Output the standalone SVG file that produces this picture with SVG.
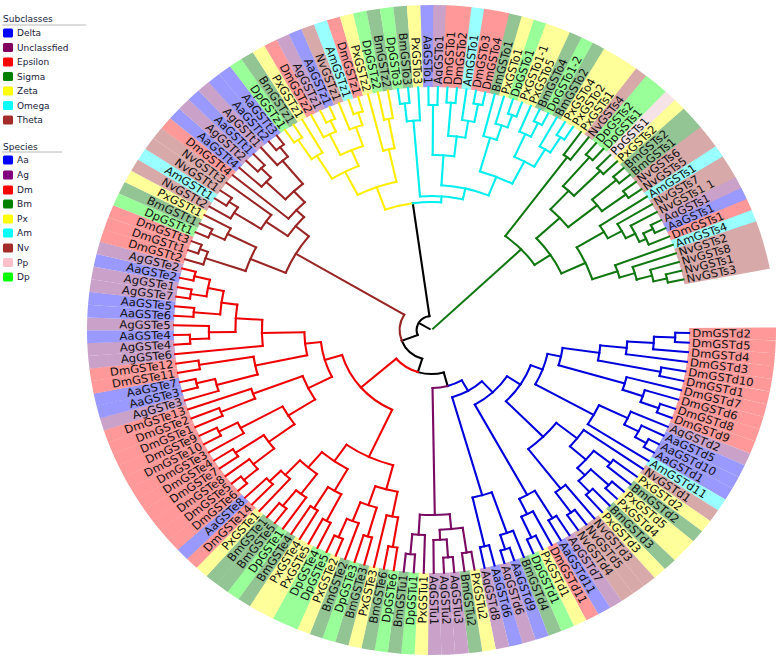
<svg xmlns="http://www.w3.org/2000/svg" width="778" height="663" viewBox="0 0 778 663">
<style>
text{font-family:"DejaVu Sans","Liberation Sans",sans-serif}
.lab text{font-size:11px;fill:#111}
.r{dominant-baseline:central}
.l{dominant-baseline:central;text-anchor:end}
.b{fill:none;stroke-width:82;stroke-dasharray:2.3 400}
.Dm{stroke:#ff9999}.Aa{stroke:#9999ff}.Ag{stroke:#c9a1c9}.Bm{stroke:#93c493}.Px{stroke:#ffff99}.Am{stroke:#99ffff}.Nv{stroke:#d8a9a9}.Pp{stroke:#f5e3e8}.Dp{stroke:#99ff99}
#connectors{fill:none;stroke-width:2;stroke-linecap:square}
.k{stroke:#000}.d{stroke:#0000dd}.u{stroke:#7a0a62}.e{stroke:#ee0000}.t{stroke:#9a2424}.z{stroke:#ffee00}.o{stroke:#00eeee}.s{stroke:#117711}
.lg text{font-size:9px;fill:#1a1a3a}
.lh{font-size:10.4px;fill:#222}
</style>
<rect width="778" height="663" fill="#fff"/>
<g id="legend">
<g id="legend-subclasses" class="lg">
<text class="lh" x="3" y="22">Subclasses</text>
<line x1="2" y1="25" x2="86" y2="25" stroke="#b8b8b8" stroke-width="1"/>
<g id="lg-delta"><rect x="3" y="28.5" width="10" height="9" rx="1.5" fill="#0000ff"/><text x="17" y="36.3">Delta</text></g>
<g id="lg-unclassfied"><rect x="3" y="43" width="10" height="9" rx="1.5" fill="#800060"/><text x="17" y="50.8">Unclassfied</text></g>
<g id="lg-epsilon"><rect x="3" y="57.5" width="10" height="9" rx="1.5" fill="#ff0000"/><text x="17" y="65.3">Epsilon</text></g>
<g id="lg-sigma"><rect x="3" y="72" width="10" height="9" rx="1.5" fill="#008000"/><text x="17" y="79.8">Sigma</text></g>
<g id="lg-zeta"><rect x="3" y="86.5" width="10" height="9" rx="1.5" fill="#ffff00"/><text x="17" y="94.3">Zeta</text></g>
<g id="lg-omega"><rect x="3" y="101" width="10" height="9" rx="1.5" fill="#00ffff"/><text x="17" y="108.8">Omega</text></g>
<g id="lg-theta"><rect x="3" y="115.5" width="10" height="9" rx="1.5" fill="#a52a2a"/><text x="17" y="123.3">Theta</text></g>
</g>
<g id="legend-species" class="lg">
<text class="lh" x="3" y="150">Species</text>
<line x1="2" y1="152" x2="62" y2="152" stroke="#b8b8b8" stroke-width="1"/>
<g id="lg-aa"><rect x="3" y="155.5" width="10" height="9" rx="1.5" fill="#0000ff"/><text x="17" y="163.3">Aa</text></g>
<g id="lg-ag"><rect x="3" y="170.5" width="10" height="9" rx="1.5" fill="#800080"/><text x="17" y="178.3">Ag</text></g>
<g id="lg-dm"><rect x="3" y="185.5" width="10" height="9" rx="1.5" fill="#ff0000"/><text x="17" y="193.3">Dm</text></g>
<g id="lg-bm"><rect x="3" y="199.5" width="10" height="9" rx="1.5" fill="#008000"/><text x="17" y="207.3">Bm</text></g>
<g id="lg-px"><rect x="3" y="214.5" width="10" height="9" rx="1.5" fill="#ffff00"/><text x="17" y="222.3">Px</text></g>
<g id="lg-am"><rect x="3" y="228.5" width="10" height="9" rx="1.5" fill="#00ffff"/><text x="17" y="236.3">Am</text></g>
<g id="lg-nv"><rect x="3" y="243.5" width="10" height="9" rx="1.5" fill="#a52a2a"/><text x="17" y="251.3">Nv</text></g>
<g id="lg-pp"><rect x="3" y="258" width="10" height="9" rx="1.5" fill="#ffc0cb"/><text x="17" y="265.8">Pp</text></g>
<g id="lg-dp"><rect x="3" y="272.5" width="10" height="9" rx="1.5" fill="#00ff00"/><text x="17" y="280.3">Dp</text></g>
</g>
</g>
<g id="tree" transform="translate(431.5,330) scale(1.06,1)">
<g id="leaves" class="lab">
<g id="DmGSTd2" transform="rotate(0.70)"><circle class="b Dm" r="284" pathLength="360" transform="rotate(-1.15)"/><text class="r" x="246">DmGSTd2</text></g>
<g id="DmGSTd5" transform="rotate(2.98)"><circle class="b Dm" r="284" pathLength="360" transform="rotate(-1.15)"/><text class="r" x="246">DmGSTd5</text></g>
<g id="DmGSTd4" transform="rotate(5.26)"><circle class="b Dm" r="284" pathLength="360" transform="rotate(-1.15)"/><text class="r" x="246">DmGSTd4</text></g>
<g id="DmGSTd3" transform="rotate(7.53)"><circle class="b Dm" r="284" pathLength="360" transform="rotate(-1.15)"/><text class="r" x="246">DmGSTd3</text></g>
<g id="DmGSTd10" transform="rotate(9.81)"><circle class="b Dm" r="284" pathLength="360" transform="rotate(-1.15)"/><text class="r" x="246">DmGSTd10</text></g>
<g id="DmGSTd1" transform="rotate(12.09)"><circle class="b Dm" r="284" pathLength="360" transform="rotate(-1.15)"/><text class="r" x="246">DmGSTd1</text></g>
<g id="DmGSTd7" transform="rotate(14.36)"><circle class="b Dm" r="284" pathLength="360" transform="rotate(-1.15)"/><text class="r" x="246">DmGSTd7</text></g>
<g id="DmGSTd6" transform="rotate(16.64)"><circle class="b Dm" r="284" pathLength="360" transform="rotate(-1.15)"/><text class="r" x="246">DmGSTd6</text></g>
<g id="DmGSTd8" transform="rotate(18.91)"><circle class="b Dm" r="284" pathLength="360" transform="rotate(-1.15)"/><text class="r" x="246">DmGSTd8</text></g>
<g id="DmGSTd9" transform="rotate(21.19)"><circle class="b Dm" r="284" pathLength="360" transform="rotate(-1.15)"/><text class="r" x="246">DmGSTd9</text></g>
<g id="AgGSTd2" transform="rotate(23.47)"><circle class="b Ag" r="284" pathLength="360" transform="rotate(-1.15)"/><text class="r" x="246">AgGSTd2</text></g>
<g id="AaGSTd5" transform="rotate(25.75)"><circle class="b Aa" r="284" pathLength="360" transform="rotate(-1.15)"/><text class="r" x="246">AaGSTd5</text></g>
<g id="AaGSTd10" transform="rotate(28.03)"><circle class="b Aa" r="284" pathLength="360" transform="rotate(-1.15)"/><text class="r" x="246">AaGSTd10</text></g>
<g id="AaGSTd1" transform="rotate(30.30)"><circle class="b Aa" r="284" pathLength="360" transform="rotate(-1.15)"/><text class="r" x="246">AaGSTd1</text></g>
<g id="AmGSTd11" transform="rotate(32.58)"><circle class="b Am" r="284" pathLength="360" transform="rotate(-1.15)"/><text class="r" x="246">AmGSTd11</text></g>
<g id="NvGSTd1" transform="rotate(34.85)"><circle class="b Nv" r="284" pathLength="360" transform="rotate(-1.15)"/><text class="r" x="246">NvGSTd1</text></g>
<g id="PxGSTd2" transform="rotate(37.13)"><circle class="b Px" r="284" pathLength="360" transform="rotate(-1.15)"/><text class="r" x="246">PxGSTd2</text></g>
<g id="BmGSTd2" transform="rotate(39.41)"><circle class="b Bm" r="284" pathLength="360" transform="rotate(-1.15)"/><text class="r" x="246">BmGSTd2</text></g>
<g id="PxGSTd5" transform="rotate(41.68)"><circle class="b Px" r="284" pathLength="360" transform="rotate(-1.15)"/><text class="r" x="246">PxGSTd5</text></g>
<g id="PxGSTd4" transform="rotate(43.96)"><circle class="b Px" r="284" pathLength="360" transform="rotate(-1.15)"/><text class="r" x="246">PxGSTd4</text></g>
<g id="BmGSTd3" transform="rotate(46.24)"><circle class="b Bm" r="284" pathLength="360" transform="rotate(-1.15)"/><text class="r" x="246">BmGSTd3</text></g>
<g id="PxGSTd3" transform="rotate(48.52)"><circle class="b Px" r="284" pathLength="360" transform="rotate(-1.15)"/><text class="r" x="246">PxGSTd3</text></g>
<g id="NvGSTd3" transform="rotate(50.80)"><circle class="b Nv" r="284" pathLength="360" transform="rotate(-1.15)"/><text class="r" x="246">NvGSTd3</text></g>
<g id="NvGSTd5" transform="rotate(53.07)"><circle class="b Nv" r="284" pathLength="360" transform="rotate(-1.15)"/><text class="r" x="246">NvGSTd5</text></g>
<g id="NvGSTd4" transform="rotate(55.34)"><circle class="b Nv" r="284" pathLength="360" transform="rotate(-1.15)"/><text class="r" x="246">NvGSTd4</text></g>
<g id="AgGSTd7" transform="rotate(57.62)"><circle class="b Ag" r="284" pathLength="360" transform="rotate(-1.15)"/><text class="r" x="246">AgGSTd7</text></g>
<g id="AaGSTd11" transform="rotate(59.90)"><circle class="b Aa" r="284" pathLength="360" transform="rotate(-1.15)"/><text class="r" x="246">AaGSTd11</text></g>
<g id="DmGSTd11" transform="rotate(62.18)"><circle class="b Dm" r="284" pathLength="360" transform="rotate(-1.15)"/><text class="r" x="246">DmGSTd11</text></g>
<g id="PxGSTd1" transform="rotate(64.45)"><circle class="b Px" r="284" pathLength="360" transform="rotate(-1.15)"/><text class="r" x="246">PxGSTd1</text></g>
<g id="DpGSTd1" transform="rotate(66.73)"><circle class="b Dp" r="284" pathLength="360" transform="rotate(-1.15)"/><text class="r" x="246">DpGSTd1</text></g>
<g id="BmGSTd4" transform="rotate(69.01)"><circle class="b Bm" r="284" pathLength="360" transform="rotate(-1.15)"/><text class="r" x="246">BmGSTd4</text></g>
<g id="AaGSTd9" transform="rotate(71.29)"><circle class="b Aa" r="284" pathLength="360" transform="rotate(-1.15)"/><text class="r" x="246">AaGSTd9</text></g>
<g id="AgGSTd6" transform="rotate(73.57)"><circle class="b Ag" r="284" pathLength="360" transform="rotate(-1.15)"/><text class="r" x="246">AgGSTd6</text></g>
<g id="AaGSTd6" transform="rotate(75.83)"><circle class="b Aa" r="284" pathLength="360" transform="rotate(-1.15)"/><text class="r" x="246">AaGSTd6</text></g>
<g id="AgGSTd8" transform="rotate(78.11)"><circle class="b Ag" r="284" pathLength="360" transform="rotate(-1.15)"/><text class="r" x="246">AgGSTd8</text></g>
<g id="PxGSTu2" transform="rotate(80.39)"><circle class="b Px" r="284" pathLength="360" transform="rotate(-1.15)"/><text class="r" x="246">PxGSTu2</text></g>
<g id="BmGSTu2" transform="rotate(82.67)"><circle class="b Bm" r="284" pathLength="360" transform="rotate(-1.15)"/><text class="r" x="246">BmGSTu2</text></g>
<g id="AgGSTu3" transform="rotate(84.94)"><circle class="b Ag" r="284" pathLength="360" transform="rotate(-1.15)"/><text class="r" x="246">AgGSTu3</text></g>
<g id="AgGSTu2" transform="rotate(87.22)"><circle class="b Ag" r="284" pathLength="360" transform="rotate(-1.15)"/><text class="r" x="246">AgGSTu2</text></g>
<g id="AgGSTu1" transform="rotate(89.50)"><circle class="b Ag" r="284" pathLength="360" transform="rotate(-1.15)"/><text class="r" x="246">AgGSTu1</text></g>
<g id="PxGSTu1" transform="rotate(91.73)"><circle class="b Px" r="284" pathLength="360" transform="rotate(-1.15)"/><text class="l" x="-246" transform="rotate(180)">PxGSTu1</text></g>
<g id="DpGSTu1" transform="rotate(93.96)"><circle class="b Dp" r="284" pathLength="360" transform="rotate(-1.15)"/><text class="l" x="-246" transform="rotate(180)">DpGSTu1</text></g>
<g id="BmGSTu1" transform="rotate(96.19)"><circle class="b Bm" r="284" pathLength="360" transform="rotate(-1.15)"/><text class="l" x="-246" transform="rotate(180)">BmGSTu1</text></g>
<g id="DpGSTe6" transform="rotate(98.43)"><circle class="b Dp" r="284" pathLength="360" transform="rotate(-1.15)"/><text class="l" x="-246" transform="rotate(180)">DpGSTe6</text></g>
<g id="BmGSTe6" transform="rotate(100.66)"><circle class="b Bm" r="284" pathLength="360" transform="rotate(-1.15)"/><text class="l" x="-246" transform="rotate(180)">BmGSTe6</text></g>
<g id="PxGSTe3" transform="rotate(102.89)"><circle class="b Px" r="284" pathLength="360" transform="rotate(-1.15)"/><text class="l" x="-246" transform="rotate(180)">PxGSTe3</text></g>
<g id="BmGSTe3" transform="rotate(105.12)"><circle class="b Bm" r="284" pathLength="360" transform="rotate(-1.15)"/><text class="l" x="-246" transform="rotate(180)">BmGSTe3</text></g>
<g id="DpGSTe3" transform="rotate(107.36)"><circle class="b Dp" r="284" pathLength="360" transform="rotate(-1.15)"/><text class="l" x="-246" transform="rotate(180)">DpGSTe3</text></g>
<g id="BmGSTe2" transform="rotate(109.59)"><circle class="b Bm" r="284" pathLength="360" transform="rotate(-1.15)"/><text class="l" x="-246" transform="rotate(180)">BmGSTe2</text></g>
<g id="PxGSTe2" transform="rotate(111.82)"><circle class="b Px" r="284" pathLength="360" transform="rotate(-1.15)"/><text class="l" x="-246" transform="rotate(180)">PxGSTe2</text></g>
<g id="DpGSTe5" transform="rotate(114.05)"><circle class="b Dp" r="284" pathLength="360" transform="rotate(-1.15)"/><text class="l" x="-246" transform="rotate(180)">DpGSTe5</text></g>
<g id="DpGSTe4" transform="rotate(116.28)"><circle class="b Dp" r="284" pathLength="360" transform="rotate(-1.15)"/><text class="l" x="-246" transform="rotate(180)">DpGSTe4</text></g>
<g id="PxGSTe5" transform="rotate(118.51)"><circle class="b Px" r="284" pathLength="360" transform="rotate(-1.15)"/><text class="l" x="-246" transform="rotate(180)">PxGSTe5</text></g>
<g id="PxGSTe4" transform="rotate(120.75)"><circle class="b Px" r="284" pathLength="360" transform="rotate(-1.15)"/><text class="l" x="-246" transform="rotate(180)">PxGSTe4</text></g>
<g id="BmGSTe4" transform="rotate(122.98)"><circle class="b Bm" r="284" pathLength="360" transform="rotate(-1.15)"/><text class="l" x="-246" transform="rotate(180)">BmGSTe4</text></g>
<g id="DpGSTe1" transform="rotate(125.21)"><circle class="b Dp" r="284" pathLength="360" transform="rotate(-1.15)"/><text class="l" x="-246" transform="rotate(180)">DpGSTe1</text></g>
<g id="BmGSTe5" transform="rotate(127.44)"><circle class="b Bm" r="284" pathLength="360" transform="rotate(-1.15)"/><text class="l" x="-246" transform="rotate(180)">BmGSTe5</text></g>
<g id="BmGSTe1" transform="rotate(129.67)"><circle class="b Bm" r="284" pathLength="360" transform="rotate(-1.15)"/><text class="l" x="-246" transform="rotate(180)">BmGSTe1</text></g>
<g id="PxGSTe1" transform="rotate(131.90)"><circle class="b Px" r="284" pathLength="360" transform="rotate(-1.15)"/><text class="l" x="-246" transform="rotate(180)">PxGSTe1</text></g>
<g id="DmGSTe14" transform="rotate(134.14)"><circle class="b Dm" r="284" pathLength="360" transform="rotate(-1.15)"/><text class="l" x="-246" transform="rotate(180)">DmGSTe14</text></g>
<g id="AaGSTe8" transform="rotate(136.37)"><circle class="b Aa" r="284" pathLength="360" transform="rotate(-1.15)"/><text class="l" x="-246" transform="rotate(180)">AaGSTe8</text></g>
<g id="DmGSTe6" transform="rotate(138.60)"><circle class="b Dm" r="284" pathLength="360" transform="rotate(-1.15)"/><text class="l" x="-246" transform="rotate(180)">DmGSTe6</text></g>
<g id="DmGSTe5" transform="rotate(140.83)"><circle class="b Dm" r="284" pathLength="360" transform="rotate(-1.15)"/><text class="l" x="-246" transform="rotate(180)">DmGSTe5</text></g>
<g id="DmGSTe8" transform="rotate(143.06)"><circle class="b Dm" r="284" pathLength="360" transform="rotate(-1.15)"/><text class="l" x="-246" transform="rotate(180)">DmGSTe8</text></g>
<g id="DmGSTe7" transform="rotate(145.29)"><circle class="b Dm" r="284" pathLength="360" transform="rotate(-1.15)"/><text class="l" x="-246" transform="rotate(180)">DmGSTe7</text></g>
<g id="DmGSTe4" transform="rotate(147.53)"><circle class="b Dm" r="284" pathLength="360" transform="rotate(-1.15)"/><text class="l" x="-246" transform="rotate(180)">DmGSTe4</text></g>
<g id="DmGSTe3" transform="rotate(149.76)"><circle class="b Dm" r="284" pathLength="360" transform="rotate(-1.15)"/><text class="l" x="-246" transform="rotate(180)">DmGSTe3</text></g>
<g id="DmGSTe10" transform="rotate(151.99)"><circle class="b Dm" r="284" pathLength="360" transform="rotate(-1.15)"/><text class="l" x="-246" transform="rotate(180)">DmGSTe10</text></g>
<g id="DmGSTe9" transform="rotate(154.22)"><circle class="b Dm" r="284" pathLength="360" transform="rotate(-1.15)"/><text class="l" x="-246" transform="rotate(180)">DmGSTe9</text></g>
<g id="DmGSTe1" transform="rotate(156.45)"><circle class="b Dm" r="284" pathLength="360" transform="rotate(-1.15)"/><text class="l" x="-246" transform="rotate(180)">DmGSTe1</text></g>
<g id="DmGSTe2" transform="rotate(158.68)"><circle class="b Dm" r="284" pathLength="360" transform="rotate(-1.15)"/><text class="l" x="-246" transform="rotate(180)">DmGSTe2</text></g>
<g id="DmGSTe13" transform="rotate(160.92)"><circle class="b Dm" r="284" pathLength="360" transform="rotate(-1.15)"/><text class="l" x="-246" transform="rotate(180)">DmGSTe13</text></g>
<g id="AgGSTe3" transform="rotate(163.15)"><circle class="b Ag" r="284" pathLength="360" transform="rotate(-1.15)"/><text class="l" x="-246" transform="rotate(180)">AgGSTe3</text></g>
<g id="AaGSTe3" transform="rotate(165.38)"><circle class="b Aa" r="284" pathLength="360" transform="rotate(-1.15)"/><text class="l" x="-246" transform="rotate(180)">AaGSTe3</text></g>
<g id="AaGSTe7" transform="rotate(167.61)"><circle class="b Aa" r="284" pathLength="360" transform="rotate(-1.15)"/><text class="l" x="-246" transform="rotate(180)">AaGSTe7</text></g>
<g id="DmGSTe11" transform="rotate(169.84)"><circle class="b Dm" r="284" pathLength="360" transform="rotate(-1.15)"/><text class="l" x="-246" transform="rotate(180)">DmGSTe11</text></g>
<g id="DmGSTe12" transform="rotate(172.07)"><circle class="b Dm" r="284" pathLength="360" transform="rotate(-1.15)"/><text class="l" x="-246" transform="rotate(180)">DmGSTe12</text></g>
<g id="AgGSTe6" transform="rotate(174.30)"><circle class="b Ag" r="284" pathLength="360" transform="rotate(-1.15)"/><text class="l" x="-246" transform="rotate(180)">AgGSTe6</text></g>
<g id="AgGSTe4" transform="rotate(176.56)"><circle class="b Ag" r="284" pathLength="360" transform="rotate(-1.15)"/><text class="l" x="-246" transform="rotate(180)">AgGSTe4</text></g>
<g id="AaGSTe4" transform="rotate(178.82)"><circle class="b Aa" r="284" pathLength="360" transform="rotate(-1.15)"/><text class="l" x="-246" transform="rotate(180)">AaGSTe4</text></g>
<g id="AgGSTe5" transform="rotate(181.09)"><circle class="b Ag" r="284" pathLength="360" transform="rotate(-1.15)"/><text class="l" x="-246" transform="rotate(180)">AgGSTe5</text></g>
<g id="AaGSTe6" transform="rotate(183.35)"><circle class="b Aa" r="284" pathLength="360" transform="rotate(-1.15)"/><text class="l" x="-246" transform="rotate(180)">AaGSTe6</text></g>
<g id="AaGSTe5" transform="rotate(185.61)"><circle class="b Aa" r="284" pathLength="360" transform="rotate(-1.15)"/><text class="l" x="-246" transform="rotate(180)">AaGSTe5</text></g>
<g id="AgGSTe7" transform="rotate(187.87)"><circle class="b Ag" r="284" pathLength="360" transform="rotate(-1.15)"/><text class="l" x="-246" transform="rotate(180)">AgGSTe7</text></g>
<g id="AgGSTe1" transform="rotate(190.13)"><circle class="b Ag" r="284" pathLength="360" transform="rotate(-1.15)"/><text class="l" x="-246" transform="rotate(180)">AgGSTe1</text></g>
<g id="AaGSTe2" transform="rotate(192.40)"><circle class="b Aa" r="284" pathLength="360" transform="rotate(-1.15)"/><text class="l" x="-246" transform="rotate(180)">AaGSTe2</text></g>
<g id="AgGSTe2" transform="rotate(194.66)"><circle class="b Ag" r="284" pathLength="360" transform="rotate(-1.15)"/><text class="l" x="-246" transform="rotate(180)">AgGSTe2</text></g>
<g id="DmGSTt2" transform="rotate(196.92)"><circle class="b Dm" r="284" pathLength="360" transform="rotate(-1.15)"/><text class="l" x="-246" transform="rotate(180)">DmGSTt2</text></g>
<g id="DmGSTt1" transform="rotate(199.18)"><circle class="b Dm" r="284" pathLength="360" transform="rotate(-1.15)"/><text class="l" x="-246" transform="rotate(180)">DmGSTt1</text></g>
<g id="DmGSTt3" transform="rotate(201.44)"><circle class="b Dm" r="284" pathLength="360" transform="rotate(-1.15)"/><text class="l" x="-246" transform="rotate(180)">DmGSTt3</text></g>
<g id="DpGSTt1" transform="rotate(203.70)"><circle class="b Dp" r="284" pathLength="360" transform="rotate(-1.15)"/><text class="l" x="-246" transform="rotate(180)">DpGSTt1</text></g>
<g id="BmGSTt1" transform="rotate(205.97)"><circle class="b Bm" r="284" pathLength="360" transform="rotate(-1.15)"/><text class="l" x="-246" transform="rotate(180)">BmGSTt1</text></g>
<g id="PxGSTt1" transform="rotate(208.23)"><circle class="b Px" r="284" pathLength="360" transform="rotate(-1.15)"/><text class="l" x="-246" transform="rotate(180)">PxGSTt1</text></g>
<g id="NvGSTt2" transform="rotate(210.49)"><circle class="b Nv" r="284" pathLength="360" transform="rotate(-1.15)"/><text class="l" x="-246" transform="rotate(180)">NvGSTt2</text></g>
<g id="AmGSTt1" transform="rotate(212.75)"><circle class="b Am" r="284" pathLength="360" transform="rotate(-1.15)"/><text class="l" x="-246" transform="rotate(180)">AmGSTt1</text></g>
<g id="NvGSTt1" transform="rotate(215.01)"><circle class="b Nv" r="284" pathLength="360" transform="rotate(-1.15)"/><text class="l" x="-246" transform="rotate(180)">NvGSTt1</text></g>
<g id="NvGSTt3" transform="rotate(217.28)"><circle class="b Nv" r="284" pathLength="360" transform="rotate(-1.15)"/><text class="l" x="-246" transform="rotate(180)">NvGSTt3</text></g>
<g id="DmGSTt4" transform="rotate(219.54)"><circle class="b Dm" r="284" pathLength="360" transform="rotate(-1.15)"/><text class="l" x="-246" transform="rotate(180)">DmGSTt4</text></g>
<g id="AaGSTt4" transform="rotate(221.80)"><circle class="b Aa" r="284" pathLength="360" transform="rotate(-1.15)"/><text class="l" x="-246" transform="rotate(180)">AaGSTt4</text></g>
<g id="AgGSTt2" transform="rotate(224.06)"><circle class="b Ag" r="284" pathLength="360" transform="rotate(-1.15)"/><text class="l" x="-246" transform="rotate(180)">AgGSTt2</text></g>
<g id="AaGSTt1" transform="rotate(226.32)"><circle class="b Aa" r="284" pathLength="360" transform="rotate(-1.15)"/><text class="l" x="-246" transform="rotate(180)">AaGSTt1</text></g>
<g id="AgGSTt1" transform="rotate(228.59)"><circle class="b Ag" r="284" pathLength="360" transform="rotate(-1.15)"/><text class="l" x="-246" transform="rotate(180)">AgGSTt1</text></g>
<g id="AaGSTt2" transform="rotate(230.85)"><circle class="b Aa" r="284" pathLength="360" transform="rotate(-1.15)"/><text class="l" x="-246" transform="rotate(180)">AaGSTt2</text></g>
<g id="AaGSTt3" transform="rotate(233.11)"><circle class="b Aa" r="284" pathLength="360" transform="rotate(-1.15)"/><text class="l" x="-246" transform="rotate(180)">AaGSTt3</text></g>
<g id="DpGSTz1" transform="rotate(235.37)"><circle class="b Dp" r="284" pathLength="360" transform="rotate(-1.15)"/><text class="l" x="-246" transform="rotate(180)">DpGSTz1</text></g>
<g id="BmGSTz1" transform="rotate(237.63)"><circle class="b Bm" r="284" pathLength="360" transform="rotate(-1.15)"/><text class="l" x="-246" transform="rotate(180)">BmGSTz1</text></g>
<g id="PxGSTz1" transform="rotate(239.90)"><circle class="b Px" r="284" pathLength="360" transform="rotate(-1.15)"/><text class="l" x="-246" transform="rotate(180)">PxGSTz1</text></g>
<g id="DmGSTz2" transform="rotate(242.16)"><circle class="b Dm" r="284" pathLength="360" transform="rotate(-1.15)"/><text class="l" x="-246" transform="rotate(180)">DmGSTz2</text></g>
<g id="AgGSTz1" transform="rotate(244.42)"><circle class="b Ag" r="284" pathLength="360" transform="rotate(-1.15)"/><text class="l" x="-246" transform="rotate(180)">AgGSTz1</text></g>
<g id="AaGSTz1" transform="rotate(246.68)"><circle class="b Aa" r="284" pathLength="360" transform="rotate(-1.15)"/><text class="l" x="-246" transform="rotate(180)">AaGSTz1</text></g>
<g id="NvGSTz1" transform="rotate(248.94)"><circle class="b Nv" r="284" pathLength="360" transform="rotate(-1.15)"/><text class="l" x="-246" transform="rotate(180)">NvGSTz1</text></g>
<g id="AmGSTz1" transform="rotate(251.20)"><circle class="b Am" r="284" pathLength="360" transform="rotate(-1.15)"/><text class="l" x="-246" transform="rotate(180)">AmGSTz1</text></g>
<g id="DmGSTz1" transform="rotate(253.47)"><circle class="b Dm" r="284" pathLength="360" transform="rotate(-1.15)"/><text class="l" x="-246" transform="rotate(180)">DmGSTz1</text></g>
<g id="PxGSTz2" transform="rotate(255.73)"><circle class="b Px" r="284" pathLength="360" transform="rotate(-1.15)"/><text class="l" x="-246" transform="rotate(180)">PxGSTz2</text></g>
<g id="DpGSTz2" transform="rotate(257.99)"><circle class="b Dp" r="284" pathLength="360" transform="rotate(-1.15)"/><text class="l" x="-246" transform="rotate(180)">DpGSTz2</text></g>
<g id="BmGSTz2" transform="rotate(260.25)"><circle class="b Bm" r="284" pathLength="360" transform="rotate(-1.15)"/><text class="l" x="-246" transform="rotate(180)">BmGSTz2</text></g>
<g id="DpGSTo3" transform="rotate(262.51)"><circle class="b Dp" r="284" pathLength="360" transform="rotate(-1.15)"/><text class="l" x="-246" transform="rotate(180)">DpGSTo3</text></g>
<g id="BmGSTo3" transform="rotate(264.78)"><circle class="b Bm" r="284" pathLength="360" transform="rotate(-1.15)"/><text class="l" x="-246" transform="rotate(180)">BmGSTo3</text></g>
<g id="PxGSTo3" transform="rotate(267.04)"><circle class="b Px" r="284" pathLength="360" transform="rotate(-1.15)"/><text class="l" x="-246" transform="rotate(180)">PxGSTo3</text></g>
<g id="AaGSTo1" transform="rotate(269.30)"><circle class="b Aa" r="284" pathLength="360" transform="rotate(-1.15)"/><text class="l" x="-246" transform="rotate(180)">AaGSTo1</text></g>
<g id="AgGSTo1" transform="rotate(271.43)"><circle class="b Ag" r="284" pathLength="360" transform="rotate(-1.15)"/><text class="r" x="246">AgGSTo1</text></g>
<g id="DmGSTo1" transform="rotate(273.55)"><circle class="b Dm" r="284" pathLength="360" transform="rotate(-1.15)"/><text class="r" x="246">DmGSTo1</text></g>
<g id="DmGSTo2" transform="rotate(275.68)"><circle class="b Dm" r="284" pathLength="360" transform="rotate(-1.15)"/><text class="r" x="246">DmGSTo2</text></g>
<g id="AmGSTo1" transform="rotate(277.81)"><circle class="b Am" r="284" pathLength="360" transform="rotate(-1.15)"/><text class="r" x="246">AmGSTo1</text></g>
<g id="DmGSTo3" transform="rotate(279.94)"><circle class="b Dm" r="284" pathLength="360" transform="rotate(-1.15)"/><text class="r" x="246">DmGSTo3</text></g>
<g id="DmGSTo4" transform="rotate(282.06)"><circle class="b Dm" r="284" pathLength="360" transform="rotate(-1.15)"/><text class="r" x="246">DmGSTo4</text></g>
<g id="BmGSTo1" transform="rotate(284.19)"><circle class="b Bm" r="284" pathLength="360" transform="rotate(-1.15)"/><text class="r" x="246">BmGSTo1</text></g>
<g id="PxGSTo1" transform="rotate(286.32)"><circle class="b Px" r="284" pathLength="360" transform="rotate(-1.15)"/><text class="r" x="246">PxGSTo1</text></g>
<g id="DpGSTo1" transform="rotate(288.44)"><circle class="b Dp" r="284" pathLength="360" transform="rotate(-1.15)"/><text class="r" x="246">DpGSTo1</text></g>
<g id="PxGSTo1-1" transform="rotate(290.57)"><circle class="b Px" r="284" pathLength="360" transform="rotate(-1.15)"/><text class="r" x="246">PxGSTo1-1</text></g>
<g id="PxGSTo5" transform="rotate(292.70)"><circle class="b Px" r="284" pathLength="360" transform="rotate(-1.15)"/><text class="r" x="246">PxGSTo5</text></g>
<g id="BmGSTo4" transform="rotate(294.82)"><circle class="b Bm" r="284" pathLength="360" transform="rotate(-1.15)"/><text class="r" x="246">BmGSTo4</text></g>
<g id="DpGSTo1-2" transform="rotate(296.95)"><circle class="b Dp" r="284" pathLength="360" transform="rotate(-1.15)"/><text class="r" x="246">DpGSTo1-2</text></g>
<g id="BmGSTo2" transform="rotate(299.08)"><circle class="b Bm" r="284" pathLength="360" transform="rotate(-1.15)"/><text class="r" x="246">BmGSTo2</text></g>
<g id="PxGSTo4" transform="rotate(301.21)"><circle class="b Px" r="284" pathLength="360" transform="rotate(-1.15)"/><text class="r" x="246">PxGSTo4</text></g>
<g id="PxGSTo2" transform="rotate(303.33)"><circle class="b Px" r="284" pathLength="360" transform="rotate(-1.15)"/><text class="r" x="246">PxGSTo2</text></g>
<g id="PxGSTs1" transform="rotate(305.46)"><circle class="b Px" r="284" pathLength="360" transform="rotate(-1.15)"/><text class="r" x="246">PxGSTs1</text></g>
<g id="NvGSTs4" transform="rotate(307.59)"><circle class="b Nv" r="284" pathLength="360" transform="rotate(-1.15)"/><text class="r" x="246">NvGSTs4</text></g>
<g id="DpGSTs2" transform="rotate(309.71)"><circle class="b Dp" r="284" pathLength="360" transform="rotate(-1.15)"/><text class="r" x="246">DpGSTs2</text></g>
<g id="DpGSTs1" transform="rotate(311.84)"><circle class="b Dp" r="284" pathLength="360" transform="rotate(-1.15)"/><text class="r" x="246">DpGSTs1</text></g>
<g id="PpGSTs1" transform="rotate(313.97)"><circle class="b Pp" r="284" pathLength="360" transform="rotate(-1.15)"/><text class="r" x="246">PpGSTs1</text></g>
<g id="PxGSTs2" transform="rotate(316.10)"><circle class="b Px" r="284" pathLength="360" transform="rotate(-1.15)"/><text class="r" x="246">PxGSTs2</text></g>
<g id="BmGSTs2" transform="rotate(318.22)"><circle class="b Bm" r="284" pathLength="360" transform="rotate(-1.15)"/><text class="r" x="246">BmGSTs2</text></g>
<g id="BmGSTs1" transform="rotate(320.35)"><circle class="b Bm" r="284" pathLength="360" transform="rotate(-1.15)"/><text class="r" x="246">BmGSTs1</text></g>
<g id="NvGSTs6" transform="rotate(322.48)"><circle class="b Nv" r="284" pathLength="360" transform="rotate(-1.15)"/><text class="r" x="246">NvGSTs6</text></g>
<g id="NvGSTs5" transform="rotate(324.60)"><circle class="b Nv" r="284" pathLength="360" transform="rotate(-1.15)"/><text class="r" x="246">NvGSTs5</text></g>
<g id="AmGSTs1" transform="rotate(326.73)"><circle class="b Am" r="284" pathLength="360" transform="rotate(-1.15)"/><text class="r" x="246">AmGSTs1</text></g>
<g id="NvGSTs7" transform="rotate(328.86)"><circle class="b Nv" r="284" pathLength="360" transform="rotate(-1.15)"/><text class="r" x="246">NvGSTs7</text></g>
<g id="NvGSTs1_1" transform="rotate(330.99)"><circle class="b Nv" r="284" pathLength="360" transform="rotate(-1.15)"/><text class="r" x="246">NvGSTs1 1</text></g>
<g id="AgGSTs1" transform="rotate(333.11)"><circle class="b Ag" r="284" pathLength="360" transform="rotate(-1.15)"/><text class="r" x="246">AgGSTs1</text></g>
<g id="AaGSTs1" transform="rotate(335.24)"><circle class="b Aa" r="284" pathLength="360" transform="rotate(-1.15)"/><text class="r" x="246">AaGSTs1</text></g>
<g id="DmGSTs1" transform="rotate(337.37)"><circle class="b Dm" r="284" pathLength="360" transform="rotate(-1.15)"/><text class="r" x="246">DmGSTs1</text></g>
<g id="AmGSTs4" transform="rotate(339.49)"><circle class="b Am" r="284" pathLength="360" transform="rotate(-1.15)"/><text class="r" x="246">AmGSTs4</text></g>
<g id="NvGSTs2" transform="rotate(341.62)"><circle class="b Nv" r="284" pathLength="360" transform="rotate(-1.15)"/><text class="r" x="246">NvGSTs2</text></g>
<g id="NvGSTs8" transform="rotate(343.75)"><circle class="b Nv" r="284" pathLength="360" transform="rotate(-1.15)"/><text class="r" x="246">NvGSTs8</text></g>
<g id="NvGSTs1" transform="rotate(345.88)"><circle class="b Nv" r="284" pathLength="360" transform="rotate(-1.15)"/><text class="r" x="246">NvGSTs1</text></g>
<g id="NvGSTs3" transform="rotate(348.00)"><circle class="b Nv" r="284" pathLength="360" transform="rotate(-1.15)"/><text class="r" x="246">NvGSTs3</text></g>
</g>
<g id="connectors">
<g class="k">
<line x1="2" x2="14" transform="rotate(210.48)"/>
<circle r="14" pathLength="360" stroke-dasharray="103.18 400" transform="rotate(158.89)"/>
<line x1="14" x2="30" transform="rotate(158.89)"/>
<circle r="30" pathLength="360" stroke-dasharray="51.9 400" transform="rotate(106.99)"/>
<line x1="30" x2="44" transform="rotate(106.99)"/>
<circle r="44" pathLength="360" stroke-dasharray="32.23 400" transform="rotate(74.76)"/>
<line x1="44" x2="58" transform="rotate(74.76)"/>
<line x1="14" x2="128" transform="rotate(262.07)"/>
</g>
<g class="d">
<circle r="58" pathLength="360" stroke-dasharray="14.28 400" transform="rotate(60.48)"/>
<line x1="58" x2="70" transform="rotate(60.48)"/>
<circle r="70" pathLength="360" stroke-dasharray="26.66 400" transform="rotate(47.18)"/>
<line x1="70" x2="172" transform="rotate(73.84)"/>
<circle r="172" pathLength="360" stroke-dasharray="6.28 400" transform="rotate(70.70)"/>
<line x1="172" x2="215" transform="rotate(70.70)"/>
<circle r="215" pathLength="360" stroke-dasharray="3.42 400" transform="rotate(69.01)"/>
<line x1="215" x2="243" transform="rotate(69.01)"/>
<line x1="215" x2="230" transform="rotate(72.43)"/>
<circle r="230" pathLength="360" stroke-dasharray="2.28 400" transform="rotate(71.29)"/>
<line x1="230" x2="243" transform="rotate(71.29)"/>
<line x1="230" x2="243" transform="rotate(73.57)"/>
<line x1="172" x2="222" transform="rotate(76.98)"/>
<circle r="222" pathLength="360" stroke-dasharray="2.28 400" transform="rotate(75.83)"/>
<line x1="222" x2="243" transform="rotate(75.83)"/>
<line x1="222" x2="243" transform="rotate(78.11)"/>
<line x1="70" x2="85" transform="rotate(47.18)"/>
<circle r="85" pathLength="360" stroke-dasharray="28.30 400" transform="rotate(33.02)"/>
<line x1="85" x2="188" transform="rotate(61.32)"/>
<circle r="188" pathLength="360" stroke-dasharray="5.12 400" transform="rotate(58.77)"/>
<line x1="188" x2="220" transform="rotate(58.77)"/>
<circle r="220" pathLength="360" stroke-dasharray="2.28 400" transform="rotate(57.62)"/>
<line x1="220" x2="243" transform="rotate(57.62)"/>
<line x1="220" x2="243" transform="rotate(59.90)"/>
<line x1="188" x2="205" transform="rotate(63.89)"/>
<circle r="205" pathLength="360" stroke-dasharray="3.41 400" transform="rotate(62.18)"/>
<line x1="205" x2="243" transform="rotate(62.18)"/>
<line x1="205" x2="228" transform="rotate(65.59)"/>
<circle r="228" pathLength="360" stroke-dasharray="2.28 400" transform="rotate(64.45)"/>
<line x1="228" x2="243" transform="rotate(64.45)"/>
<line x1="228" x2="243" transform="rotate(66.73)"/>
<line x1="85" x2="100" transform="rotate(33.02)"/>
<circle r="100" pathLength="360" stroke-dasharray="24.73 400" transform="rotate(20.66)"/>
<line x1="100" x2="150" transform="rotate(45.39)"/>
<circle r="150" pathLength="360" stroke-dasharray="14.22 400" transform="rotate(38.28)"/>
<line x1="150" x2="175" transform="rotate(38.28)"/>
<circle r="175" pathLength="360" stroke-dasharray="6.84 400" transform="rotate(34.85)"/>
<line x1="175" x2="243" transform="rotate(34.85)"/>
<line x1="175" x2="195" transform="rotate(41.69)"/>
<circle r="195" pathLength="360" stroke-dasharray="6.82 400" transform="rotate(38.28)"/>
<line x1="195" x2="215" transform="rotate(38.28)"/>
<circle r="215" pathLength="360" stroke-dasharray="2.28 400" transform="rotate(37.13)"/>
<line x1="215" x2="243" transform="rotate(37.13)"/>
<line x1="215" x2="243" transform="rotate(39.41)"/>
<line x1="195" x2="205" transform="rotate(45.10)"/>
<circle r="205" pathLength="360" stroke-dasharray="4.55 400" transform="rotate(42.83)"/>
<line x1="205" x2="228" transform="rotate(42.83)"/>
<circle r="228" pathLength="360" stroke-dasharray="2.28 400" transform="rotate(41.68)"/>
<line x1="228" x2="243" transform="rotate(41.68)"/>
<line x1="228" x2="243" transform="rotate(43.96)"/>
<line x1="205" x2="220" transform="rotate(47.38)"/>
<circle r="220" pathLength="360" stroke-dasharray="2.28 400" transform="rotate(46.24)"/>
<line x1="220" x2="243" transform="rotate(46.24)"/>
<line x1="220" x2="243" transform="rotate(48.52)"/>
<line x1="150" x2="200" transform="rotate(52.50)"/>
<circle r="200" pathLength="360" stroke-dasharray="3.41 400" transform="rotate(50.80)"/>
<line x1="200" x2="243" transform="rotate(50.80)"/>
<line x1="200" x2="225" transform="rotate(54.21)"/>
<circle r="225" pathLength="360" stroke-dasharray="2.27 400" transform="rotate(53.07)"/>
<line x1="225" x2="243" transform="rotate(53.07)"/>
<line x1="225" x2="243" transform="rotate(55.34)"/>
<line x1="100" x2="112" transform="rotate(20.66)"/>
<circle r="112" pathLength="360" stroke-dasharray="16.72 400" transform="rotate(12.30)"/>
<line x1="112" x2="175" transform="rotate(29.02)"/>
<circle r="175" pathLength="360" stroke-dasharray="7.12 400" transform="rotate(25.46)"/>
<line x1="175" x2="243" transform="rotate(32.58)"/>
<line x1="175" x2="205" transform="rotate(25.46)"/>
<circle r="205" pathLength="360" stroke-dasharray="3.99 400" transform="rotate(23.47)"/>
<line x1="205" x2="243" transform="rotate(23.47)"/>
<line x1="205" x2="220" transform="rotate(27.46)"/>
<circle r="220" pathLength="360" stroke-dasharray="3.41 400" transform="rotate(25.75)"/>
<line x1="220" x2="243" transform="rotate(25.75)"/>
<line x1="220" x2="232" transform="rotate(29.16)"/>
<circle r="232" pathLength="360" stroke-dasharray="2.27 400" transform="rotate(28.03)"/>
<line x1="232" x2="243" transform="rotate(28.03)"/>
<line x1="232" x2="243" transform="rotate(30.30)"/>
<line x1="112" x2="125" transform="rotate(12.30)"/>
<circle r="125" pathLength="360" stroke-dasharray="8.12 400" transform="rotate(8.24)"/>
<line x1="125" x2="160" transform="rotate(8.24)"/>
<circle r="160" pathLength="360" stroke-dasharray="5.41 400" transform="rotate(5.54)"/>
<line x1="160" x2="185" transform="rotate(5.54)"/>
<circle r="185" pathLength="360" stroke-dasharray="3.98 400" transform="rotate(3.55)"/>
<line x1="185" x2="243" transform="rotate(7.53)"/>
<line x1="185" x2="210" transform="rotate(3.55)"/>
<circle r="210" pathLength="360" stroke-dasharray="3.41 400" transform="rotate(1.85)"/>
<line x1="210" x2="243" transform="rotate(5.26)"/>
<line x1="210" x2="230" transform="rotate(1.85)"/>
<circle r="230" pathLength="360" stroke-dasharray="2.28 400" transform="rotate(0.70)"/>
<line x1="230" x2="243" transform="rotate(0.70)"/>
<line x1="230" x2="243" transform="rotate(2.98)"/>
<line x1="160" x2="220" transform="rotate(10.95)"/>
<circle r="220" pathLength="360" stroke-dasharray="2.28 400" transform="rotate(9.81)"/>
<line x1="220" x2="243" transform="rotate(9.81)"/>
<line x1="220" x2="243" transform="rotate(12.09)"/>
<line x1="125" x2="190" transform="rotate(16.36)"/>
<circle r="190" pathLength="360" stroke-dasharray="3.99 400" transform="rotate(14.36)"/>
<line x1="190" x2="243" transform="rotate(14.36)"/>
<line x1="190" x2="210" transform="rotate(18.35)"/>
<circle r="210" pathLength="360" stroke-dasharray="3.42 400" transform="rotate(16.64)"/>
<line x1="210" x2="243" transform="rotate(16.64)"/>
<line x1="210" x2="228" transform="rotate(20.06)"/>
<circle r="228" pathLength="360" stroke-dasharray="2.28 400" transform="rotate(18.91)"/>
<line x1="228" x2="243" transform="rotate(18.91)"/>
<line x1="228" x2="243" transform="rotate(21.19)"/>
</g>
<g class="u">
<circle r="58" pathLength="360" stroke-dasharray="14.28 400" transform="rotate(74.76)"/>
<line x1="58" x2="185" transform="rotate(89.04)"/>
<circle r="185" pathLength="360" stroke-dasharray="8.75 400" transform="rotate(84.66)"/>
<line x1="185" x2="200" transform="rotate(84.66)"/>
<circle r="200" pathLength="360" stroke-dasharray="6.26 400" transform="rotate(81.53)"/>
<line x1="200" x2="225" transform="rotate(81.53)"/>
<circle r="225" pathLength="360" stroke-dasharray="2.28 400" transform="rotate(80.39)"/>
<line x1="225" x2="243" transform="rotate(80.39)"/>
<line x1="225" x2="243" transform="rotate(82.67)"/>
<line x1="200" x2="210" transform="rotate(87.79)"/>
<circle r="210" pathLength="360" stroke-dasharray="3.42 400" transform="rotate(86.08)"/>
<line x1="210" x2="243" transform="rotate(89.50)"/>
<line x1="210" x2="228" transform="rotate(86.08)"/>
<circle r="228" pathLength="360" stroke-dasharray="2.28 400" transform="rotate(84.94)"/>
<line x1="228" x2="243" transform="rotate(84.94)"/>
<line x1="228" x2="243" transform="rotate(87.22)"/>
<line x1="185" x2="205" transform="rotate(93.41)"/>
<circle r="205" pathLength="360" stroke-dasharray="3.35 400" transform="rotate(91.73)"/>
<line x1="205" x2="243" transform="rotate(91.73)"/>
<line x1="205" x2="225" transform="rotate(95.08)"/>
<circle r="225" pathLength="360" stroke-dasharray="2.23 400" transform="rotate(93.96)"/>
<line x1="225" x2="243" transform="rotate(93.96)"/>
<line x1="225" x2="243" transform="rotate(96.19)"/>
</g>
<g class="e">
<circle r="44" pathLength="360" stroke-dasharray="32.22 400" transform="rotate(106.99)"/>
<line x1="44" x2="88" transform="rotate(139.21)"/>
<circle r="88" pathLength="360" stroke-dasharray="48.48 400" transform="rotate(114.97)"/>
<line x1="88" x2="140" transform="rotate(114.97)"/>
<circle r="140" pathLength="360" stroke-dasharray="19.95 400" transform="rotate(104.99)"/>
<line x1="140" x2="165" transform="rotate(104.99)"/>
<circle r="165" pathLength="360" stroke-dasharray="7.54 400" transform="rotate(101.22)"/>
<line x1="165" x2="190" transform="rotate(101.22)"/>
<circle r="190" pathLength="360" stroke-dasharray="3.34 400" transform="rotate(99.55)"/>
<line x1="190" x2="243" transform="rotate(102.89)"/>
<line x1="190" x2="220" transform="rotate(99.55)"/>
<circle r="220" pathLength="360" stroke-dasharray="2.23 400" transform="rotate(98.43)"/>
<line x1="220" x2="243" transform="rotate(98.43)"/>
<line x1="220" x2="243" transform="rotate(100.66)"/>
<line x1="165" x2="185" transform="rotate(108.76)"/>
<circle r="185" pathLength="360" stroke-dasharray="5.03 400" transform="rotate(106.24)"/>
<line x1="185" x2="215" transform="rotate(106.24)"/>
<circle r="215" pathLength="360" stroke-dasharray="2.24 400" transform="rotate(105.12)"/>
<line x1="215" x2="243" transform="rotate(105.12)"/>
<line x1="215" x2="243" transform="rotate(107.36)"/>
<line x1="185" x2="205" transform="rotate(111.27)"/>
<circle r="205" pathLength="360" stroke-dasharray="3.35 400" transform="rotate(109.59)"/>
<line x1="205" x2="243" transform="rotate(109.59)"/>
<line x1="205" x2="225" transform="rotate(112.94)"/>
<circle r="225" pathLength="360" stroke-dasharray="2.23 400" transform="rotate(111.82)"/>
<line x1="225" x2="243" transform="rotate(111.82)"/>
<line x1="225" x2="243" transform="rotate(114.05)"/>
<line x1="140" x2="160" transform="rotate(124.94)"/>
<circle r="160" pathLength="360" stroke-dasharray="10.6 400" transform="rotate(119.64)"/>
<line x1="160" x2="185" transform="rotate(119.64)"/>
<circle r="185" pathLength="360" stroke-dasharray="4.47 400" transform="rotate(117.40)"/>
<line x1="185" x2="215" transform="rotate(117.40)"/>
<circle r="215" pathLength="360" stroke-dasharray="2.23 400" transform="rotate(116.28)"/>
<line x1="215" x2="243" transform="rotate(116.28)"/>
<line x1="215" x2="243" transform="rotate(118.51)"/>
<line x1="185" x2="210" transform="rotate(121.87)"/>
<circle r="210" pathLength="360" stroke-dasharray="2.23 400" transform="rotate(120.75)"/>
<line x1="210" x2="243" transform="rotate(120.75)"/>
<line x1="210" x2="243" transform="rotate(122.98)"/>
<line x1="160" x2="180" transform="rotate(130.24)"/>
<circle r="180" pathLength="360" stroke-dasharray="6.69 400" transform="rotate(126.89)"/>
<line x1="180" x2="205" transform="rotate(126.89)"/>
<circle r="205" pathLength="360" stroke-dasharray="3.35 400" transform="rotate(125.21)"/>
<line x1="205" x2="243" transform="rotate(125.21)"/>
<line x1="205" x2="225" transform="rotate(128.56)"/>
<circle r="225" pathLength="360" stroke-dasharray="2.23 400" transform="rotate(127.44)"/>
<line x1="225" x2="243" transform="rotate(127.44)"/>
<line x1="225" x2="243" transform="rotate(129.67)"/>
<line x1="180" x2="200" transform="rotate(133.58)"/>
<circle r="200" pathLength="360" stroke-dasharray="3.36 400" transform="rotate(131.90)"/>
<line x1="200" x2="243" transform="rotate(131.90)"/>
<line x1="200" x2="215" transform="rotate(135.26)"/>
<circle r="215" pathLength="360" stroke-dasharray="2.23 400" transform="rotate(134.14)"/>
<line x1="215" x2="243" transform="rotate(134.14)"/>
<line x1="215" x2="243" transform="rotate(136.37)"/>
<line x1="88" x2="105" transform="rotate(163.45)"/>
<circle r="105" pathLength="360" stroke-dasharray="19.98 400" transform="rotate(153.46)"/>
<line x1="105" x2="130" transform="rotate(153.46)"/>
<circle r="130" pathLength="360" stroke-dasharray="11.58 400" transform="rotate(147.67)"/>
<line x1="130" x2="160" transform="rotate(147.67)"/>
<circle r="160" pathLength="360" stroke-dasharray="7.54 400" transform="rotate(143.90)"/>
<line x1="160" x2="190" transform="rotate(143.90)"/>
<circle r="190" pathLength="360" stroke-dasharray="5.02 400" transform="rotate(141.39)"/>
<line x1="190" x2="215" transform="rotate(141.39)"/>
<circle r="215" pathLength="360" stroke-dasharray="3.34 400" transform="rotate(139.72)"/>
<line x1="215" x2="243" transform="rotate(143.06)"/>
<line x1="215" x2="232" transform="rotate(139.72)"/>
<circle r="232" pathLength="360" stroke-dasharray="2.23 400" transform="rotate(138.60)"/>
<line x1="232" x2="243" transform="rotate(138.60)"/>
<line x1="232" x2="243" transform="rotate(140.83)"/>
<line x1="190" x2="222" transform="rotate(146.41)"/>
<circle r="222" pathLength="360" stroke-dasharray="2.24 400" transform="rotate(145.29)"/>
<line x1="222" x2="243" transform="rotate(145.29)"/>
<line x1="222" x2="243" transform="rotate(147.53)"/>
<line x1="160" x2="205" transform="rotate(151.44)"/>
<circle r="205" pathLength="360" stroke-dasharray="3.35 400" transform="rotate(149.76)"/>
<line x1="205" x2="243" transform="rotate(149.76)"/>
<line x1="205" x2="225" transform="rotate(153.11)"/>
<circle r="225" pathLength="360" stroke-dasharray="2.23 400" transform="rotate(151.99)"/>
<line x1="225" x2="243" transform="rotate(151.99)"/>
<line x1="225" x2="243" transform="rotate(154.22)"/>
<line x1="130" x2="180" transform="rotate(159.25)"/>
<circle r="180" pathLength="360" stroke-dasharray="3.35 400" transform="rotate(157.57)"/>
<line x1="180" x2="243" transform="rotate(160.92)"/>
<line x1="180" x2="215" transform="rotate(157.57)"/>
<circle r="215" pathLength="360" stroke-dasharray="2.23 400" transform="rotate(156.45)"/>
<line x1="215" x2="243" transform="rotate(156.45)"/>
<line x1="215" x2="243" transform="rotate(158.68)"/>
<line x1="105" x2="120" transform="rotate(173.44)"/>
<circle r="120" pathLength="360" stroke-dasharray="11.07 400" transform="rotate(167.90)"/>
<line x1="120" x2="170" transform="rotate(167.90)"/>
<circle r="170" pathLength="360" stroke-dasharray="6.13 400" transform="rotate(164.83)"/>
<line x1="170" x2="210" transform="rotate(164.83)"/>
<circle r="210" pathLength="360" stroke-dasharray="3.35 400" transform="rotate(163.15)"/>
<line x1="210" x2="243" transform="rotate(163.15)"/>
<line x1="210" x2="228" transform="rotate(166.50)"/>
<circle r="228" pathLength="360" stroke-dasharray="2.23 400" transform="rotate(165.38)"/>
<line x1="228" x2="243" transform="rotate(165.38)"/>
<line x1="228" x2="243" transform="rotate(167.61)"/>
<line x1="170" x2="222" transform="rotate(170.96)"/>
<circle r="222" pathLength="360" stroke-dasharray="2.23 400" transform="rotate(169.84)"/>
<line x1="222" x2="243" transform="rotate(169.84)"/>
<line x1="222" x2="243" transform="rotate(172.07)"/>
<line x1="120" x2="160" transform="rotate(178.97)"/>
<circle r="160" pathLength="360" stroke-dasharray="9.34 400" transform="rotate(174.30)"/>
<line x1="160" x2="243" transform="rotate(174.30)"/>
<line x1="160" x2="185" transform="rotate(183.64)"/>
<circle r="185" pathLength="360" stroke-dasharray="8.49 400" transform="rotate(179.39)"/>
<line x1="185" x2="210" transform="rotate(179.39)"/>
<circle r="210" pathLength="360" stroke-dasharray="3.4 400" transform="rotate(177.69)"/>
<line x1="210" x2="243" transform="rotate(181.09)"/>
<line x1="210" x2="228" transform="rotate(177.69)"/>
<circle r="228" pathLength="360" stroke-dasharray="2.26 400" transform="rotate(176.56)"/>
<line x1="228" x2="243" transform="rotate(176.56)"/>
<line x1="228" x2="243" transform="rotate(178.82)"/>
<line x1="185" x2="200" transform="rotate(187.88)"/>
<circle r="200" pathLength="360" stroke-dasharray="6.79 400" transform="rotate(184.48)"/>
<line x1="200" x2="225" transform="rotate(184.48)"/>
<circle r="225" pathLength="360" stroke-dasharray="2.26 400" transform="rotate(183.35)"/>
<line x1="225" x2="243" transform="rotate(183.35)"/>
<line x1="225" x2="243" transform="rotate(185.61)"/>
<line x1="200" x2="215" transform="rotate(191.27)"/>
<circle r="215" pathLength="360" stroke-dasharray="4.53 400" transform="rotate(189.0)"/>
<line x1="215" x2="230" transform="rotate(189.0)"/>
<circle r="230" pathLength="360" stroke-dasharray="2.26 400" transform="rotate(187.87)"/>
<line x1="230" x2="243" transform="rotate(187.87)"/>
<line x1="230" x2="243" transform="rotate(190.13)"/>
<line x1="215" x2="230" transform="rotate(193.53)"/>
<circle r="230" pathLength="360" stroke-dasharray="2.26 400" transform="rotate(192.40)"/>
<line x1="230" x2="243" transform="rotate(192.40)"/>
<line x1="230" x2="243" transform="rotate(194.66)"/>
</g>
<g class="t">
<circle r="30" pathLength="360" stroke-dasharray="51.89 400" transform="rotate(158.89)"/>
<line x1="30" x2="149" transform="rotate(210.78)"/>
<circle r="149" pathLength="360" stroke-dasharray="16.4 400" transform="rotate(202.58)"/>
<line x1="149" x2="185" transform="rotate(202.58)"/>
<circle r="185" pathLength="360" stroke-dasharray="7.92 400" transform="rotate(198.62)"/>
<line x1="185" x2="225" transform="rotate(198.62)"/>
<circle r="225" pathLength="360" stroke-dasharray="3.39 400" transform="rotate(196.92)"/>
<line x1="225" x2="243" transform="rotate(196.92)"/>
<line x1="225" x2="233" transform="rotate(200.31)"/>
<circle r="233" pathLength="360" stroke-dasharray="2.26 400" transform="rotate(199.18)"/>
<line x1="233" x2="243" transform="rotate(199.18)"/>
<line x1="233" x2="243" transform="rotate(201.44)"/>
<line x1="185" x2="215" transform="rotate(206.54)"/>
<circle r="215" pathLength="360" stroke-dasharray="3.39 400" transform="rotate(204.84)"/>
<line x1="215" x2="243" transform="rotate(208.23)"/>
<line x1="215" x2="230" transform="rotate(204.84)"/>
<circle r="230" pathLength="360" stroke-dasharray="2.27 400" transform="rotate(203.70)"/>
<line x1="230" x2="243" transform="rotate(203.70)"/>
<line x1="230" x2="243" transform="rotate(205.97)"/>
<line x1="149" x2="165" transform="rotate(218.98)"/>
<circle r="165" pathLength="360" stroke-dasharray="8.48 400" transform="rotate(214.74)"/>
<line x1="165" x2="190" transform="rotate(214.74)"/>
<circle r="190" pathLength="360" stroke-dasharray="5.09 400" transform="rotate(212.19)"/>
<line x1="190" x2="243" transform="rotate(217.28)"/>
<line x1="190" x2="220" transform="rotate(212.19)"/>
<circle r="220" pathLength="360" stroke-dasharray="3.39 400" transform="rotate(210.49)"/>
<line x1="220" x2="243" transform="rotate(210.49)"/>
<line x1="220" x2="230" transform="rotate(213.88)"/>
<circle r="230" pathLength="360" stroke-dasharray="2.26 400" transform="rotate(212.75)"/>
<line x1="230" x2="243" transform="rotate(212.75)"/>
<line x1="230" x2="243" transform="rotate(215.01)"/>
<line x1="165" x2="175" transform="rotate(223.22)"/>
<circle r="175" pathLength="360" stroke-dasharray="7.36 400" transform="rotate(219.54)"/>
<line x1="175" x2="243" transform="rotate(219.54)"/>
<line x1="175" x2="190" transform="rotate(226.90)"/>
<circle r="190" pathLength="360" stroke-dasharray="6.79 400" transform="rotate(223.50)"/>
<line x1="190" x2="215" transform="rotate(223.50)"/>
<circle r="215" pathLength="360" stroke-dasharray="3.39 400" transform="rotate(221.80)"/>
<line x1="215" x2="243" transform="rotate(221.80)"/>
<line x1="215" x2="228" transform="rotate(225.19)"/>
<circle r="228" pathLength="360" stroke-dasharray="2.26 400" transform="rotate(224.06)"/>
<line x1="228" x2="243" transform="rotate(224.06)"/>
<line x1="228" x2="243" transform="rotate(226.32)"/>
<line x1="190" x2="220" transform="rotate(230.29)"/>
<circle r="220" pathLength="360" stroke-dasharray="3.39 400" transform="rotate(228.59)"/>
<line x1="220" x2="243" transform="rotate(228.59)"/>
<line x1="220" x2="232" transform="rotate(231.98)"/>
<circle r="232" pathLength="360" stroke-dasharray="2.26 400" transform="rotate(230.85)"/>
<line x1="232" x2="243" transform="rotate(230.85)"/>
<line x1="232" x2="243" transform="rotate(233.11)"/>
</g>
<g class="z">
<circle r="128" pathLength="360" stroke-dasharray="11.99 400" transform="rotate(250.08)"/>
<line x1="128" x2="152" transform="rotate(250.08)"/>
<circle r="152" pathLength="360" stroke-dasharray="14.7 400" transform="rotate(242.73)"/>
<line x1="152" x2="178" transform="rotate(242.73)"/>
<circle r="178" pathLength="360" stroke-dasharray="9.05 400" transform="rotate(238.20)"/>
<line x1="178" x2="205" transform="rotate(238.20)"/>
<circle r="205" pathLength="360" stroke-dasharray="3.4 400" transform="rotate(236.50)"/>
<line x1="205" x2="243" transform="rotate(239.90)"/>
<line x1="205" x2="228" transform="rotate(236.50)"/>
<circle r="228" pathLength="360" stroke-dasharray="2.26 400" transform="rotate(235.37)"/>
<line x1="228" x2="243" transform="rotate(235.37)"/>
<line x1="228" x2="243" transform="rotate(237.63)"/>
<line x1="178" x2="195" transform="rotate(247.25)"/>
<circle r="195" pathLength="360" stroke-dasharray="6.78 400" transform="rotate(243.86)"/>
<line x1="195" x2="218" transform="rotate(243.86)"/>
<circle r="218" pathLength="360" stroke-dasharray="3.39 400" transform="rotate(242.16)"/>
<line x1="218" x2="243" transform="rotate(242.16)"/>
<line x1="218" x2="230" transform="rotate(245.55)"/>
<circle r="230" pathLength="360" stroke-dasharray="2.26 400" transform="rotate(244.42)"/>
<line x1="230" x2="243" transform="rotate(244.42)"/>
<line x1="230" x2="243" transform="rotate(246.68)"/>
<line x1="195" x2="215" transform="rotate(250.64)"/>
<circle r="215" pathLength="360" stroke-dasharray="3.4 400" transform="rotate(248.94)"/>
<line x1="215" x2="243" transform="rotate(248.94)"/>
<line x1="215" x2="228" transform="rotate(252.34)"/>
<circle r="228" pathLength="360" stroke-dasharray="2.27 400" transform="rotate(251.20)"/>
<line x1="228" x2="243" transform="rotate(251.20)"/>
<line x1="228" x2="243" transform="rotate(253.47)"/>
<line x1="152" x2="185" transform="rotate(257.43)"/>
<circle r="185" pathLength="360" stroke-dasharray="3.39 400" transform="rotate(255.73)"/>
<line x1="185" x2="243" transform="rotate(255.73)"/>
<line x1="185" x2="215" transform="rotate(259.12)"/>
<circle r="215" pathLength="360" stroke-dasharray="2.26 400" transform="rotate(257.99)"/>
<line x1="215" x2="243" transform="rotate(257.99)"/>
<line x1="215" x2="243" transform="rotate(260.25)"/>
</g>
<g class="o">
<circle r="128" pathLength="360" stroke-dasharray="11.98 400" transform="rotate(262.07)"/>
<line x1="128" x2="134" transform="rotate(274.05)"/>
<circle r="134" pathLength="360" stroke-dasharray="17.39 400" transform="rotate(265.35)"/>
<line x1="134" x2="210" transform="rotate(265.35)"/>
<circle r="210" pathLength="360" stroke-dasharray="3.39 400" transform="rotate(263.65)"/>
<line x1="210" x2="243" transform="rotate(267.04)"/>
<line x1="210" x2="228" transform="rotate(263.65)"/>
<circle r="228" pathLength="360" stroke-dasharray="2.27 400" transform="rotate(262.51)"/>
<line x1="228" x2="243" transform="rotate(262.51)"/>
<line x1="228" x2="243" transform="rotate(264.78)"/>
<line x1="134" x2="145" transform="rotate(282.74)"/>
<circle r="145" pathLength="360" stroke-dasharray="18.08 400" transform="rotate(273.70)"/>
<line x1="145" x2="175" transform="rotate(273.70)"/>
<circle r="175" pathLength="360" stroke-dasharray="6.65 400" transform="rotate(270.37)"/>
<line x1="175" x2="225" transform="rotate(270.37)"/>
<circle r="225" pathLength="360" stroke-dasharray="2.13 400" transform="rotate(269.30)"/>
<line x1="225" x2="243" transform="rotate(269.30)"/>
<line x1="225" x2="243" transform="rotate(271.43)"/>
<line x1="175" x2="195" transform="rotate(277.02)"/>
<circle r="195" pathLength="360" stroke-dasharray="4.79 400" transform="rotate(274.62)"/>
<line x1="195" x2="228" transform="rotate(274.62)"/>
<circle r="228" pathLength="360" stroke-dasharray="2.13 400" transform="rotate(273.55)"/>
<line x1="228" x2="243" transform="rotate(273.55)"/>
<line x1="228" x2="243" transform="rotate(275.68)"/>
<line x1="195" x2="212" transform="rotate(279.41)"/>
<circle r="212" pathLength="360" stroke-dasharray="3.19 400" transform="rotate(277.81)"/>
<line x1="212" x2="243" transform="rotate(277.81)"/>
<line x1="212" x2="230" transform="rotate(281.0)"/>
<circle r="230" pathLength="360" stroke-dasharray="2.12 400" transform="rotate(279.94)"/>
<line x1="230" x2="243" transform="rotate(279.94)"/>
<line x1="230" x2="243" transform="rotate(282.06)"/>
<line x1="145" x2="165" transform="rotate(291.78)"/>
<circle r="165" pathLength="360" stroke-dasharray="11.43 400" transform="rotate(286.06)"/>
<line x1="165" x2="200" transform="rotate(286.06)"/>
<circle r="200" pathLength="360" stroke-dasharray="3.73 400" transform="rotate(284.19)"/>
<line x1="200" x2="243" transform="rotate(284.19)"/>
<line x1="200" x2="215" transform="rotate(287.92)"/>
<circle r="215" pathLength="360" stroke-dasharray="3.19 400" transform="rotate(286.32)"/>
<line x1="215" x2="243" transform="rotate(286.32)"/>
<line x1="215" x2="228" transform="rotate(289.51)"/>
<circle r="228" pathLength="360" stroke-dasharray="2.13 400" transform="rotate(288.44)"/>
<line x1="228" x2="243" transform="rotate(288.44)"/>
<line x1="228" x2="243" transform="rotate(290.57)"/>
<line x1="165" x2="190" transform="rotate(297.49)"/>
<circle r="190" pathLength="360" stroke-dasharray="6.38 400" transform="rotate(294.30)"/>
<line x1="190" x2="215" transform="rotate(294.30)"/>
<circle r="215" pathLength="360" stroke-dasharray="3.19 400" transform="rotate(292.70)"/>
<line x1="215" x2="243" transform="rotate(292.70)"/>
<line x1="215" x2="230" transform="rotate(295.89)"/>
<circle r="230" pathLength="360" stroke-dasharray="2.13 400" transform="rotate(294.82)"/>
<line x1="230" x2="243" transform="rotate(294.82)"/>
<line x1="230" x2="243" transform="rotate(296.95)"/>
<line x1="190" x2="210" transform="rotate(300.68)"/>
<circle r="210" pathLength="360" stroke-dasharray="3.19 400" transform="rotate(299.08)"/>
<line x1="210" x2="243" transform="rotate(299.08)"/>
<line x1="210" x2="228" transform="rotate(302.27)"/>
<circle r="228" pathLength="360" stroke-dasharray="2.12 400" transform="rotate(301.21)"/>
<line x1="228" x2="243" transform="rotate(301.21)"/>
<line x1="228" x2="243" transform="rotate(303.33)"/>
</g>
<g class="s">
<line x1="2" x2="117" transform="rotate(316.36)"/>
<circle r="117" pathLength="360" stroke-dasharray="19.66 400" transform="rotate(306.53)"/>
<line x1="117" x2="215" transform="rotate(306.53)"/>
<circle r="215" pathLength="360" stroke-dasharray="2.13 400" transform="rotate(305.46)"/>
<line x1="215" x2="243" transform="rotate(305.46)"/>
<line x1="215" x2="243" transform="rotate(307.59)"/>
<line x1="117" x2="135" transform="rotate(326.19)"/>
<circle r="135" pathLength="360" stroke-dasharray="18.04 400" transform="rotate(317.17)"/>
<line x1="135" x2="165" transform="rotate(317.17)"/>
<circle r="165" pathLength="360" stroke-dasharray="8.51 400" transform="rotate(312.91)"/>
<line x1="165" x2="190" transform="rotate(312.91)"/>
<circle r="190" pathLength="360" stroke-dasharray="4.26 400" transform="rotate(310.78)"/>
<line x1="190" x2="228" transform="rotate(310.78)"/>
<circle r="228" pathLength="360" stroke-dasharray="2.13 400" transform="rotate(309.71)"/>
<line x1="228" x2="243" transform="rotate(309.71)"/>
<line x1="228" x2="243" transform="rotate(311.84)"/>
<line x1="190" x2="225" transform="rotate(315.04)"/>
<circle r="225" pathLength="360" stroke-dasharray="2.13 400" transform="rotate(313.97)"/>
<line x1="225" x2="243" transform="rotate(313.97)"/>
<line x1="225" x2="243" transform="rotate(316.10)"/>
<line x1="165" x2="200" transform="rotate(321.42)"/>
<circle r="200" pathLength="360" stroke-dasharray="4.25 400" transform="rotate(319.29)"/>
<line x1="200" x2="230" transform="rotate(319.29)"/>
<circle r="230" pathLength="360" stroke-dasharray="2.13 400" transform="rotate(318.22)"/>
<line x1="230" x2="243" transform="rotate(318.22)"/>
<line x1="230" x2="243" transform="rotate(320.35)"/>
<line x1="200" x2="228" transform="rotate(323.54)"/>
<circle r="228" pathLength="360" stroke-dasharray="2.12 400" transform="rotate(322.48)"/>
<line x1="228" x2="243" transform="rotate(322.48)"/>
<line x1="228" x2="243" transform="rotate(324.60)"/>
<line x1="135" x2="160" transform="rotate(335.21)"/>
<circle r="160" pathLength="360" stroke-dasharray="12.56 400" transform="rotate(328.93)"/>
<line x1="160" x2="190" transform="rotate(328.93)"/>
<circle r="190" pathLength="360" stroke-dasharray="4.4 400" transform="rotate(326.73)"/>
<line x1="190" x2="243" transform="rotate(326.73)"/>
<line x1="190" x2="205" transform="rotate(331.13)"/>
<circle r="205" pathLength="360" stroke-dasharray="4.53 400" transform="rotate(328.86)"/>
<line x1="205" x2="243" transform="rotate(328.86)"/>
<line x1="205" x2="215" transform="rotate(333.39)"/>
<circle r="215" pathLength="360" stroke-dasharray="4.79 400" transform="rotate(330.99)"/>
<line x1="215" x2="243" transform="rotate(330.99)"/>
<line x1="215" x2="222" transform="rotate(335.78)"/>
<circle r="222" pathLength="360" stroke-dasharray="3.19 400" transform="rotate(334.18)"/>
<line x1="222" x2="243" transform="rotate(337.37)"/>
<line x1="222" x2="232" transform="rotate(334.18)"/>
<circle r="232" pathLength="360" stroke-dasharray="2.13 400" transform="rotate(333.11)"/>
<line x1="232" x2="243" transform="rotate(333.11)"/>
<line x1="232" x2="243" transform="rotate(335.24)"/>
<line x1="160" x2="185" transform="rotate(341.49)"/>
<circle r="185" pathLength="360" stroke-dasharray="4.0 400" transform="rotate(339.49)"/>
<line x1="185" x2="243" transform="rotate(339.49)"/>
<line x1="185" x2="200" transform="rotate(343.49)"/>
<circle r="200" pathLength="360" stroke-dasharray="3.87 400" transform="rotate(341.62)"/>
<line x1="200" x2="243" transform="rotate(341.62)"/>
<line x1="200" x2="215" transform="rotate(345.35)"/>
<circle r="215" pathLength="360" stroke-dasharray="3.19 400" transform="rotate(343.75)"/>
<line x1="215" x2="243" transform="rotate(343.75)"/>
<line x1="215" x2="228" transform="rotate(346.94)"/>
<circle r="228" pathLength="360" stroke-dasharray="2.12 400" transform="rotate(345.88)"/>
<line x1="228" x2="243" transform="rotate(345.88)"/>
<line x1="228" x2="243" transform="rotate(348.00)"/>
</g>
</g>
</g>
</svg>
